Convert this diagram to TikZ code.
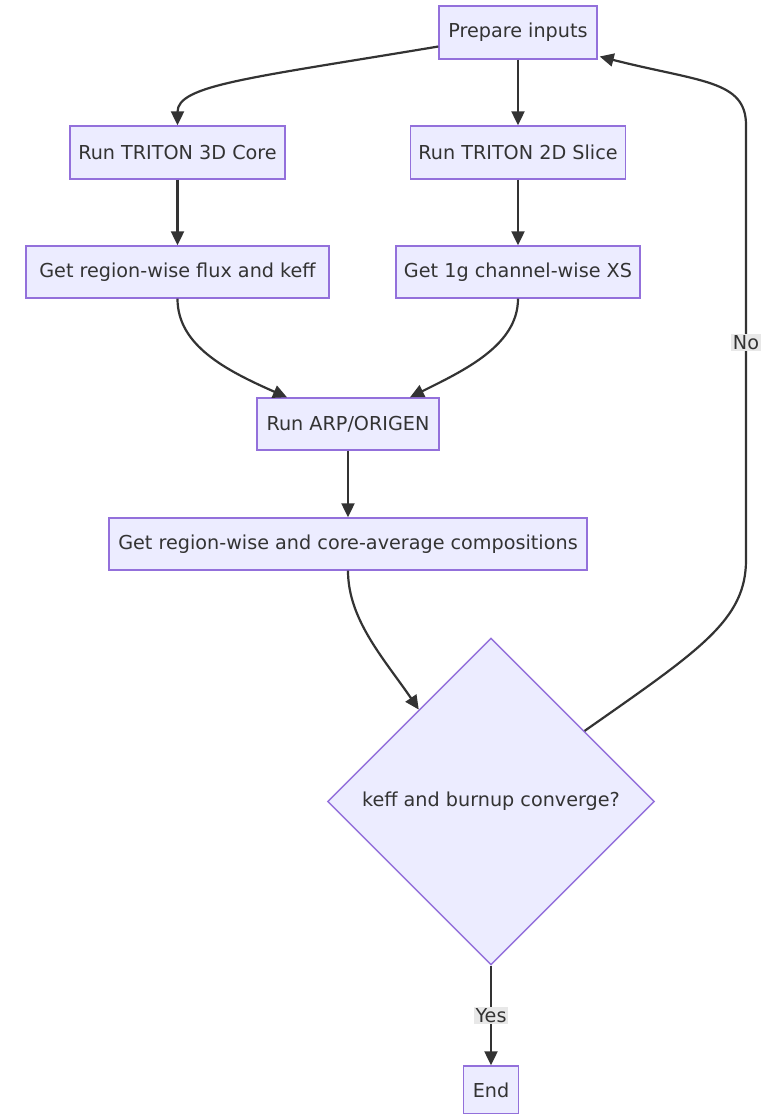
\documentclass[tikz,border=0pt]{standalone}
\usepackage{fontspec}
\setmainfont{DejaVu Sans}
\usetikzlibrary{shapes.geometric,arrows.meta,calc}
\definecolor{boxfill}{HTML}{ECECFF}
\definecolor{boxline}{HTML}{9370DB}
\definecolor{linec}{HTML}{333333}
\definecolor{lblbg}{HTML}{E8E8E8}
\begin{document}
\begin{tikzpicture}[x=1pt,y=-1pt,
  box/.style={draw=boxline,fill=boxfill,line width=1.4pt,inner sep=0pt,minimum height=53pt,text=linec,font=\fontsize{19.2}{22}\selectfont},
  dec/.style={diamond,draw=boxline,fill=boxfill,line width=1.4pt,inner sep=0pt,minimum width=327pt,minimum height=327pt,text=linec,font=\fontsize{19.2}{22}\selectfont},
  arr/.style={draw=linec,line width=2.2pt,-{Triangle[length=14pt,width=13pt]}},
  lbl/.style={fill=lblbg,inner sep=1.5pt,text=linec,font=\fontsize{19.2}{22}\selectfont}]
\useasboundingbox (0,0) rectangle (766,1114);
\fill[white] (0,0) rectangle (766,1114);
\node[box,minimum width=158pt] (prep) at (518,32.5) {Prepare inputs};
\node[box,minimum width=215pt] (c3d) at (177.5,152.5) {Run TRITON 3D Core};
\node[box,minimum width=215pt] (c2d) at (518,152.5) {Run TRITON 2D Slice};
\node[box,minimum width=303pt,minimum height=52pt] (flux) at (177.5,272) {Get region-wise flux and keff};
\node[box,minimum width=244pt,minimum height=52pt] (xs) at (518,272) {Get 1g channel-wise XS};
\node[box,minimum width=182pt,minimum height=52pt] (arp) at (348,424) {Run ARP/ORIGEN};
\node[box,minimum width=478pt,minimum height=52pt] (comp) at (348,544) {Get region-wise and core-average compositions};
\node[dec] (dia) at (491,801.5) {keff and burnup converge?};
\node[box,minimum width=55pt,minimum height=48pt] (end) at (491,1090) {End};

\draw[arr] ($(prep.west)+(0,14)$) .. controls (250,78) and (177.5,85) .. (c3d.north);
\draw[arr] (prep) -- (c2d);
\draw[arr] (c3d) -- (flux);
\draw[arr] (c2d) -- (xs);
\draw[arr] (flux.south) .. controls (177.5,345) and (225,370) .. ($(arp.north)+(-61,0)$);
\draw[arr] (xs.south) .. controls (518,345) and (465,370) .. ($(arp.north)+(62,0)$);
\draw[arr] (arp) -- (comp);
\draw[arr] (comp.south) .. controls (348,620) and (385,660) .. ($(dia.north)!0.44!(dia.west)$);
\draw[arr] (dia.south) -- node[lbl] (yes) {Yes} (end.north);
\coordinate (c1) at (746,560);
\coordinate (c2) at (746,125);
\draw[arr] ($(dia.north)!0.57!(dia.east)$) .. controls (700,650) and (746,620) .. (c1) -- node[lbl,pos=0.50] (no) {No} (c2) .. controls (746,80) and (700,82) .. ($(prep.east)+(2,24)$);
\end{tikzpicture}
\end{document}
